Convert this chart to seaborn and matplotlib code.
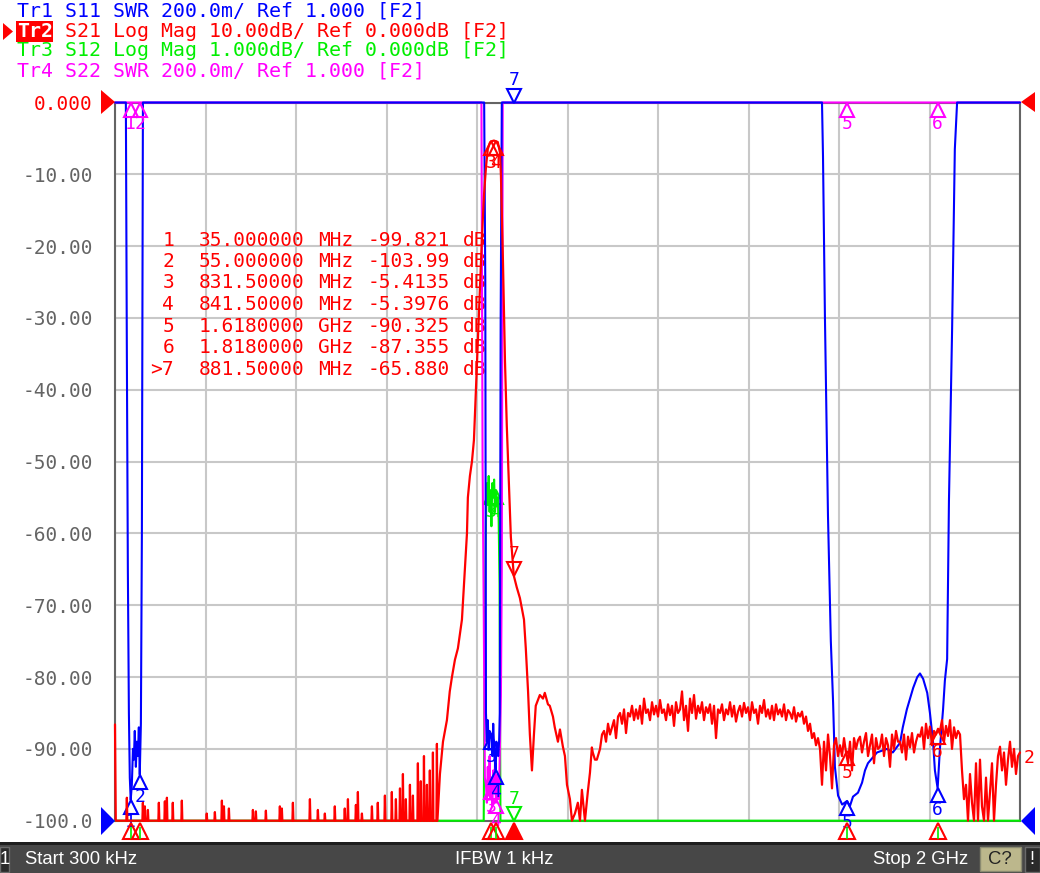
import numpy as np
import matplotlib
matplotlib.use("Agg")
import matplotlib.pyplot as plt
import matplotlib.transforms as mtrans
from matplotlib.patches import Polygon, Rectangle
import seaborn as sns
import pandas as pd

# ---------------- data ----------------
# Tr2 S21 (dB): start point and noise spikes above the -100 dB floor (MHz, dB)
red_start_f, red_start_db = 0.3, -86.6
red_floor_level = -100.0
red_spike_f = [26.5, 61.9, 66.3, 73, 97.2, 110.5, 115, 128, 148, 203, 221, 236.5, 241, 252, 305,
               311.6, 333.7, 364.6, 369, 393.4, 431, 448.6, 464, 486, 508, 515, 532.6, 537, 545.9,
               568, 581, 596.7, 612, 621, 630, 636.5, 643, 652, 658.6, 669.6, 676, 683, 689.5, 696,
               702.8, 711.6]
red_spike_db = [-96.8, -97.5, -98, -98.5, -97.5, -97.3, -96.8, -97.5, -97.2, -99, -98.8, -97.2, -98,
                -98.3, -98.5, -98.7, -98.6, -98, -98.3, -97.5, -97, -98.5, -99, -98, -98.3, -97,
                -97.8, -96, -99, -98, -97.5, -96.5, -96, -97, -95.5, -93.5, -97, -95, -96.5, -92,
                -94.5, -91, -95, -93, -90.5, -89.3]
# passband region
red_band_f = [718.3, 725, 733.7, 740, 744.8, 751.4, 758, 766.9, 773.5, 778, 780, 784.5, 789, 793.4, 797.8,
              802, 806.7, 811, 815.5, 820, 824, 828.7, 831.5, 837.6, 841.5, 846, 851, 853, 857.5, 862, 866,
              870.7, 875, 881.5, 888, 895, 904, 908, 913, 917, 921.6, 926, 930, 939, 946, 950, 957, 961,
              968, 972, 979, 983.5, 990, 994.5, 999, 1005.5, 1010, 1016.6, 1023, 1027.7, 1032, 1038.7,
              1045, 1049.8, 1054, 1056, 1060.8, 1065]
red_band_db = [-93.5, -89, -86, -82, -80, -77.6, -76, -72, -65, -60, -55, -52, -50, -47, -40,
               -33, -26, -19, -13, -9, -6.5, -5.6, -5.4135, -5.3, -5.3976, -5.5, -7, -10, -22, -36, -45,
               -53, -60.5, -65.88, -67.5, -69, -72, -76, -82, -88, -93, -88, -84, -82.5, -83, -82.2, -83.8, -84,
               -85.5, -87, -89, -87.3, -89.7, -91, -95, -97, -100, -99, -97.5, -100, -95.7, -100,
               -96, -93.3, -89.8, -90.5, -91.5, -91.5]
# upper region, uniform sweep 1072 MHz .. 2000 MHz
red_tail_start, red_tail_stop = 1072.0, 2000.0
red_tail_db = [
    -90, -88, -87.5, -89, -86.5, -88, -87, -86, -88.5, -85.5,
    -85, -86.5, -84.5, -87.8, -85, -85.5, -84, -86, -84.5, -85.8,
    -84, -86.5, -83, -85, -84.5, -86, -83.5, -85.2, -84, -85.5,
    -83.2, -85, -84.5, -86, -83.8, -85.3, -84, -86.8, -83.5, -85,
    -84.5, -82, -86, -84, -87.5, -83, -85, -82.5, -85.8, -84,
    -85, -83.5, -86, -84.2, -85, -83.8, -86.5, -84, -88.5, -84.5,
    -85, -83.8, -86, -84.5, -85.2, -83.5, -85.5, -84, -86.2, -84.8,
    -84, -85.5, -83.6, -85, -84.2, -86, -83.5, -85, -84.5, -86.5,
    -84, -85, -83.2, -85.5, -84.5, -85.8, -84, -86, -83.8, -85.2,
    -84.5, -85.5, -83.8, -86, -84.6, -85, -85.8, -84.2, -86.2, -85,
    -85.5, -84.8, -86.5, -85.5, -87.5, -86.5, -88.5, -87.8, -89.5, -88.5,
    -90, -95, -89, -93, -88, -91, -95.5, -89.5, -88.5, -91,
    -89.5, -91, -88.5, -90.5, -92, -89, -93, -88.5, -90, -88.8,
    -88.3, -90.5, -89, -87.8, -91, -89.5, -88, -92, -88.5, -90,
    -89.7, -88, -91, -88.5, -89.5, -92.5, -88, -90, -87.5, -89,
    -89, -90.5, -88, -91.5, -88.3, -89.8, -87.8, -90.5, -89, -88,
    -88.3, -87, -90, -86.5, -88.5, -86.9, -89.5, -87.5, -88, -87.2,
    -87.5, -86, -89, -86.8, -88.2, -86, -90, -87, -88.5, -87.5,
    -88, -93, -97, -95, -100, -93.5, -97.5, -100, -92, -100,
    -91.5, -98, -100, -94, -100, -96, -92, -100, -95, -91,
    -89.7, -93, -90.5, -95, -91.5, -89, -92.5, -90, -93.5, -91, -90.5]

# Tr1 S11 SWR (display limit 3.0 at top)
blue_f = [0.3, 20, 24.3, 26.5, 28.7, 31, 33, 35, 37.5, 40, 42, 44, 46.4, 48.6, 50.8, 53, 55, 57.5, 59.7,
          62, 66, 816, 818.5, 820, 822, 824, 826, 828, 831.5, 834, 836, 838, 840, 841.5, 843, 845,
          847, 849, 850.5, 852.5, 855, 1558, 1562.5, 1564.7, 1569, 1575.7, 1582, 1587, 1591, 1598,
          1607, 1618, 1624, 1631, 1642, 1651, 1657.5, 1664, 1684, 1706, 1719, 1735, 1741, 1750,
          1757, 1764, 1773, 1779, 1786, 1795, 1801, 1808, 1812, 1818, 1823, 1830, 1834, 1839,
          1843, 1850, 1856, 1861, 2000]
blue_swr = [3.0, 3.0, 3.0, 2.3, 1.7, 1.3, 1.12, 1.058, 1.1, 1.2, 1.17, 1.25, 1.15, 1.22, 1.18, 1.26, 1.128,
            1.27, 1.8, 3.0, 3.0, 3.0, 2.5, 1.3, 1.22, 1.28, 1.2, 1.25, 1.24, 1.18, 1.27, 1.2, 1.16, 1.14,
            1.22, 1.2, 1.18, 1.22, 1.3, 2.4, 3.0, 3.0, 3.0, 2.85, 2.4, 1.85, 1.5, 1.33, 1.15, 1.07,
            1.045, 1.055, 1.04, 1.067, 1.078, 1.106, 1.14, 1.16, 1.19, 1.20, 1.19, 1.217, 1.26, 1.31,
            1.34, 1.37, 1.40, 1.41, 1.395, 1.356, 1.30, 1.217, 1.14, 1.09, 1.2, 1.31, 1.39, 1.45,
            1.89, 2.37, 2.87, 3.0, 3.0]

# Tr4 S22 SWR
mag_f = [0.3, 810, 812.5, 815, 817.5, 820, 822, 824, 826, 828, 830, 832, 834, 836, 838, 840, 842, 844,
         846, 848, 850, 853, 855, 857, 2000]
mag_swr = [3.0, 3.0, 2.0, 1.6, 1.12, 1.1, 1.05, 1.15, 1.07, 1.18, 1.06, 1.12, 1.04, 1.14, 1.08, 1.16,
           1.05, 1.1, 1.13, 1.06, 1.15, 1.35, 1.7, 3.0, 3.0]

# Tr3 S12 Log Mag (1 dB/div, bottom = -10 dB)
green_f = [0.3, 815, 818, 820, 822, 824, 826, 828, 830, 832, 834, 836, 838, 840, 842, 844, 846, 848,
           850, 852, 2000]
green_db = [-10, -10, -7, -5.8, -5.3, -5.6, -5.2, -5.7, -5.4, -5.9, -5.3, -5.5, -5.25, -5.7, -5.4,
            -5.6, -5.5, -5.8, -6.7, -10, -10]

# markers
mk_labels = ["1", "2", "3", "4", "5", "6", "7"]
mk_f = [35.0, 55.0, 831.5, 841.5, 1618.0, 1818.0, 881.5]
mk_red_db = [-99.821, -103.99, -5.4135, -5.3976, -90.325, -87.355, -65.880]
mk_blue_swr = [1.058, 1.128, 1.24, 1.14, 1.055, 1.09, 3.0]
mk_mag_swr = [3.0, 3.0, 1.1, 1.06, 3.0, 3.0, 3.0]
mk_green_db = [-10, -10, -5.4, -5.4, -10, -10, -10]
mk_freq_text = ["35.000000", "55.000000", "831.50000", "841.50000", "1.6180000", "1.8180000", "881.50000"]
mk_unit_text = ["MHz", "MHz", "MHz", "MHz", "GHz", "GHz", "MHz"]
mk_val_text = ["-99.821", "-103.99", "-5.4135", "-5.3976", "-90.325", "-87.355", "-65.880"]

header_lines = ["Tr1 S11 SWR 200.0m/ Ref 1.000 [F2]",
                "Tr2 S21 Log Mag 10.00dB/ Ref 0.000dB [F2]",
                "Tr3 S12 Log Mag 1.000dB/ Ref 0.000dB [F2]",
                "Tr4 S22 SWR 200.0m/ Ref 1.000 [F2]"]
ytick_vals = [0, -10, -20, -30, -40, -50, -60, -70, -80, -90, -100]
ytick_text = ["0.000", "-10.00", "-20.00", "-30.00", "-40.00", "-50.00", "-60.00",
              "-70.00", "-80.00", "-90.00", "-100.0"]

# ---------------- styling ----------------
RED, BLUE, GREEN, MAG = "#ff0000", "#0000ff", "#00ee00", "#ff00ff"
GRAY = "#646464"
sns.set_theme(style="white")
plt.rcParams['font.family'] = ['DejaVu Sans Mono', 'DejaVu Sans']
MONO = 14
HDR = 14.3

W, H = 1040, 873
fig = plt.figure(figsize=(W / 100, H / 100), dpi=100)
fig.patch.set_facecolor("white")


def P(x, y):
    return (x / W, 1 - y / H)


L, R, T, B = 115, 1020, 102.5, 820.7
ax = fig.add_axes([L / W, 1 - B / H, (R - L) / W, (B - T) / H])
ax_g = ax.twinx()
ax_s = ax.twinx()
ax_r = ax.twinx()

FMIN, FMAX = 0.3, 2000.0
ax.set_xlim(FMIN, FMAX)
ax.set_ylim(-100, 0)
ax.set_xticks(np.linspace(FMIN, FMAX, 11))
ax.set_yticks(ytick_vals)
ax.set_yticklabels(ytick_text, fontsize=MONO, color=GRAY, family="DejaVu Sans Mono")
ax.get_yticklabels()[0].set_color(RED)
ax.tick_params(axis="x", length=0, labelbottom=False)
ax.tick_params(axis="y", length=0, pad=16)
ax.grid(True, color="#c8c8c8", lw=1.5)
for s in ax.spines.values():
    s.set_color(GRAY)
    s.set_linewidth(1.5)

for a in (ax_g, ax_s, ax_r):
    for s in a.spines.values():
        s.set_visible(False)


def trace(axx, f, v, color, lw=1.5):
    df = pd.DataFrame({"f": f, "v": v})
    sns.lineplot(data=df, x="f", y="v", ax=axx, color=color, lw=lw, estimator=None,
                 sort=False, legend=False, clip_on=False)
    axx.set_xlabel("")
    axx.set_ylabel("")


# red trace assembly: each spike rises from the floor and drops back
red_f = [red_start_f, 2.0]
red_db = [red_start_db, red_floor_level]
for sf, sv in zip(red_spike_f, red_spike_db):
    red_f += [sf - 1.1, sf, sf + 1.1]
    red_db += [red_floor_level, sv, red_floor_level]
red_tail_f = np.linspace(red_tail_start, red_tail_stop, len(red_tail_db))
red_f = np.concatenate([red_f, red_band_f, red_tail_f])
red_db = np.concatenate([red_db, red_band_db, red_tail_db])

trace(ax_g, green_f, green_db, GREEN)
trace(ax_s, mag_f, mag_swr, MAG)
trace(ax_s, blue_f, blue_swr, BLUE)
trace(ax_r, red_f, red_db, RED, lw=1.6)

ax_g.set_ylim(-10, 0)
ax_s.set_ylim(1.0, 3.0)
ax_r.set_ylim(-100, 0)
for a in (ax_g, ax_s, ax_r):
    a.set_xlim(FMIN, FMAX)
    a.tick_params(right=False, labelright=False, left=False, labelleft=False)


def marker(axx, f, v, lab, color, up=True, filled=False):
    sgn = -1 if up else 1
    tr = mtrans.offset_copy(axx.transData, fig=fig, x=0, y=7 * sgn, units="dots")
    axx.plot([f], [v], marker="^" if up else "v", ms=10, mfc=color if filled else "none",
             mec=color, mew=1.5, transform=tr, clip_on=False, ls="none")
    tr2 = mtrans.offset_copy(axx.transData, fig=fig, x=0, y=22 * sgn, units="dots")
    axx.text(f, v, lab, color=color, fontsize=13, ha="center", va="center",
             transform=tr2, family="DejaVu Sans Mono")


# magenta markers
for i in range(6):
    marker(ax_s, mk_f[i], mk_mag_swr[i], mk_labels[i], MAG)
# green markers
for i in (2, 3):
    marker(ax_g, mk_f[i], mk_green_db[i], mk_labels[i], GREEN)
marker(ax_g, mk_f[6], -10, "7", GREEN, up=False)
# blue markers
for i in range(6):
    marker(ax_s, mk_f[i], mk_blue_swr[i], mk_labels[i], BLUE)
marker(ax_s, mk_f[6], 3.0, "7", BLUE, up=False)
# red markers
for i in (2, 3, 4, 5):
    marker(ax_r, mk_f[i], mk_red_db[i], mk_labels[i], RED)
marker(ax_r, mk_f[6], mk_red_db[6], "7", RED, up=False)

# stimulus markers below the grid
trb = mtrans.offset_copy(ax_r.transData, fig=fig, x=0, y=-10, units="dots")
trg = mtrans.offset_copy(ax_r.transData, fig=fig, x=0, y=-12, units="dots")
for i in range(7):
    ax_r.plot([mk_f[i]], [-100], marker="^", ms=11, mfc=RED if i == 6 else "none", mec=RED,
              mew=1.5, transform=trb, clip_on=False, ls="none")
    if i != 6:
        ax_r.plot([mk_f[i]], [-100], marker="|", ms=8, mec=GREEN, mew=1.2,
                  transform=trg, clip_on=False, ls="none")

ax_r.text(1.004, -91.3, "2", transform=mtrans.blended_transform_factory(ax_r.transAxes, ax_r.transData),
          color=RED, fontsize=13, ha="left", va="center")


# reference level triangles
def tri(pts, color):
    fig.patches.append(Polygon([P(x, y) for x, y in pts], closed=True, transform=fig.transFigure,
                               facecolor=color, edgecolor="none", figure=fig))


tri([(101, 90), (101, 114), (115, 102)], RED)
tri([(101, 807), (101, 835), (115, 821)], BLUE)
tri([(1035, 92), (1035, 112), (1021, 102)], RED)
tri([(1035, 807), (1035, 835), (1021, 821)], BLUE)

# header
hdr_colors = [BLUE, RED, GREEN, MAG]
hdr_y = [11, 31.5, 50.5, 71]
fig.patches.append(Rectangle(P(16, 41.5), 37 / W, 20 / H, transform=fig.transFigure,
                             facecolor=RED, edgecolor="none", figure=fig))
tri([(3, 23), (3, 40), (13, 31.5)], RED)
for line, c, y in zip(header_lines, hdr_colors, hdr_y):
    if c == RED:
        fig.text(*P(17, y), line[:3], color="white", fontsize=HDR, va="center", ha="left",
                 family="DejaVu Sans Mono", fontweight="bold")
        fig.text(*P(17 + 3 * 11.95, y), line[3:], color=c, fontsize=HDR, va="center", ha="left",
                 family="DejaVu Sans Mono")
    else:
        fig.text(*P(17, y), line, color=c, fontsize=HDR, va="center", ha="left",
                 family="DejaVu Sans Mono")

# marker table (drawn in base axes so traces overlay it)
for i in range(7):
    y = 240 + 21.5 * i
    kw = dict(color=RED, fontsize=MONO, va="center", transform=fig.transFigure,
              family="DejaVu Sans Mono")
    ax.text(*P(174, y), (">" if i == 6 else "") + mk_labels[i], ha="right", **kw)
    ax.text(*P(199, y), mk_freq_text[i], ha="left", **kw)
    ax.text(*P(318, y), mk_unit_text[i], ha="left", **kw)
    ax.text(*P(368, y), mk_val_text[i], ha="left", **kw)
    ax.text(*P(463, y), "dB", ha="left", **kw)

# bottom status bar
fig.patches.append(Rectangle(P(0, 873), 1, 31 / H, transform=fig.transFigure,
                             facecolor="#474747", edgecolor="none", figure=fig))
fig.patches.append(Rectangle(P(0, 845), 1, 3 / H, transform=fig.transFigure,
                             facecolor="#1e1e1e", edgecolor="none", figure=fig))
fig.patches.append(Rectangle(P(0, 872), 9 / W, 25 / H, transform=fig.transFigure,
                             facecolor="#2a2a2a", edgecolor="#6a6a6a", lw=1, figure=fig))
fig.patches.append(Rectangle(P(980, 871), 41 / W, 24 / H, transform=fig.transFigure,
                             facecolor="#bcb78c", edgecolor="#8a8a70", lw=1, figure=fig))
fig.patches.append(Rectangle(P(1025, 872), 15 / W, 25 / H, transform=fig.transFigure,
                             facecolor="#2a2a2a", edgecolor="#6a6a6a", lw=1, figure=fig))
BFS = 13.3
bkw = dict(color="white", fontsize=BFS, va="center", family=["Liberation Sans", "DejaVu Sans"])
fig.text(*P(4.5, 859), "1", ha="center", **bkw)
fig.text(*P(25, 859), "Start 300 kHz", ha="left", **bkw)
fig.text(*P(504, 859), "IFBW 1 kHz", ha="center", **bkw)
fig.text(*P(968, 859), "Stop 2 GHz", ha="right", **bkw)
fig.text(*P(1000, 859), "C?", ha="center", color="#222222", fontsize=BFS, va="center",
         family=["Liberation Sans", "DejaVu Sans"])
fig.text(*P(1032, 859), "!", ha="center", **bkw)

fig.savefig("out.png", dpi=100, facecolor="white")
